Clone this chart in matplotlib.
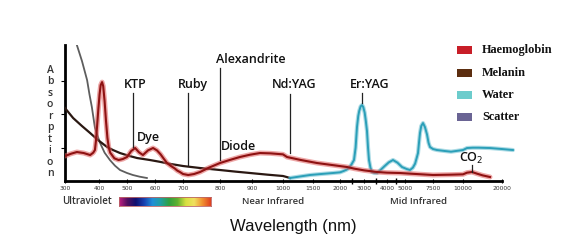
import numpy as np
import matplotlib
matplotlib.use("Agg")
import matplotlib.pyplot as plt
from matplotlib.colors import LinearSegmentedColormap
from matplotlib.patches import Rectangle

# ---------------- data ----------------
tick_wavelengths = [300, 400, 500, 600, 700, 800, 900, 1000, 1500, 2000,
                    3000, 4000, 5000, 7500, 10000, 20000]
tick_labels = ["300", "400", "500", "600", "700", "800", "900", "1000", "1500",
               "2000", "3000", "4000", "5000", "7500", "10000", "20000"]

hb_wl = [300, 318, 335, 355, 374, 383, 388, 391, 394, 398, 402, 406, 411, 415,
         420, 425, 430, 435, 440, 455, 470, 485, 500, 515, 529, 543, 557, 575,
         593, 607, 620, 632, 643, 657, 670, 680, 689, 700, 714, 730, 746, 770,
         800, 830, 862, 894, 926, 960, 1000, 1067, 1300, 1574, 1900, 2292,
         2600, 3000, 3565, 4000, 4722, 5500, 7500, 9000, 10000, 11026, 12300,
         13590, 15000, 16920]
hb_abs = [0.75, 0.82, 0.87, 0.84, 0.78, 0.85, 0.93, 1.2, 1.6, 2.15, 2.6, 2.88,
          2.97, 2.85, 2.4, 1.8, 1.3, 1.0, 0.85, 0.68, 0.63, 0.66, 0.72, 0.9,
          0.99, 0.86, 0.78, 0.92, 0.99, 0.92, 0.8, 0.66, 0.54, 0.45, 0.38,
          0.31, 0.27, 0.21, 0.18, 0.21, 0.27, 0.4, 0.54, 0.63, 0.72, 0.79,
          0.84, 0.83, 0.8, 0.72, 0.63, 0.54, 0.47, 0.42, 0.37, 0.32, 0.27,
          0.25, 0.24, 0.22, 0.18, 0.19, 0.2, 0.25, 0.27, 0.22, 0.17, 0.12]

mel_wl = [300, 312, 324, 350, 374, 397, 429, 450, 475, 505, 536, 582, 615,
          650, 700, 746, 800, 850, 894, 950, 1000, 1060, 1117]
mel_abs = [2.19, 2.04, 1.89, 1.65, 1.44, 1.23, 1.02, 0.93, 0.84, 0.76, 0.69,
           0.63, 0.58, 0.52, 0.45, 0.39, 0.33, 0.28, 0.24, 0.19, 0.15, 0.12,
           0.09]

water_wl = [1117, 1300, 1450, 1650, 1870, 2000, 2150, 2275, 2375, 2480, 2583,
            2650, 2708, 2760, 2800, 2860, 2917, 2970, 3030, 3080, 3130, 3175,
            3217, 3280, 3348, 3450, 3565, 3700, 3900, 4100, 4333, 4580, 4833,
            5150, 5446, 5700, 5900, 6050, 6161, 6250, 6339, 6450, 6607, 6780,
            6964, 7100, 7232, 7500, 7833, 8500, 9000, 10000, 11026, 12500,
            14000, 16920, 20000, 22800]
water_abs = [0.09, 0.14, 0.18, 0.21, 0.24, 0.26, 0.3, 0.34, 0.39, 0.5, 0.63,
             1.0, 1.62, 1.95, 2.1, 2.24, 2.28, 2.22, 2.05, 1.8, 1.5, 1.0, 0.63,
             0.4, 0.27, 0.24, 0.24, 0.32, 0.45, 0.56, 0.63, 0.55, 0.42, 0.36,
             0.33, 0.4, 0.52, 0.7, 0.84, 1.15, 1.44, 1.65, 1.74, 1.62, 1.4,
             1.15, 1.02, 0.96, 0.93, 0.9, 0.88, 0.93, 0.99, 1.0, 1.0, 0.99,
             0.96, 0.93]

scatter_wl = [330, 335, 350, 365, 372, 379, 388, 396, 404, 420, 439, 457, 475,
              500, 521, 545, 571]
scatter_abs = [4.3, 4.08, 3.6, 3.03, 2.6, 2.22, 1.6, 1.35, 1.14, 0.85, 0.63,
               0.46, 0.33, 0.24, 0.18, 0.13, 0.09]

laser_names = ["KTP", "Ruby", "Alexandrite", "Nd:YAG", "Er:YAG", "CO$_2$"]
laser_line_wl = [521, 714, 800, 1117, 2917, 12300]

legend_names = ["Haemoglobin", "Melanin", "Water", "Scatter"]
legend_colors = ["#c81e28", "#5c2e10", "#6ccccc", "#6a6494"]

# ---------------- piecewise x scale ----------------
W = 568.0
H = 250.0
scale_wl = np.array(tick_wavelengths + [30000], dtype=float)
scale_px = np.array([65, 99, 127, 155, 183, 220, 252, 283, 313, 340, 364, 387,
                     405, 433, 463, 502, 541], dtype=float)

def fwd(x):
    return np.interp(x, scale_wl, scale_px)

def inv(p):
    return np.interp(p, scale_px, scale_wl)

fig = plt.figure(figsize=(W / 100, H / 100), dpi=100)
fig.patch.set_facecolor("white")
ax_l, ax_r, ax_t, ax_b = 65, 502, 45, 181
ax = fig.add_axes([ax_l / W, 1 - ax_b / H, (ax_r - ax_l) / W, (ax_b - ax_t) / H])
ax.set_xscale("function", functions=(fwd, inv))
ax.set_xlim(300, 20000)
ax.set_ylim(0, (ax_b - ax_t) / 33.3)

for s in ["top", "right"]:
    ax.spines[s].set_visible(False)
ax.spines["left"].set_linewidth(2.0)
ax.spines["bottom"].set_linewidth(2.0)

ax.set_xticks(tick_wavelengths)
ax.set_xticklabels(tick_labels, fontsize=4.3, color="#333333",
                   family="DejaVu Sans")
ax.set_xticks([2500, 3500, 4500], minor=True)
ax.tick_params(axis="x", which="major", length=3, width=0.8, direction="inout",
               pad=2)
ax.tick_params(axis="x", which="minor", length=5, width=1.0, direction="inout")
ax.set_yticks([1, 2, 3])
ax.set_yticklabels([])
ax.tick_params(axis="y", length=3, width=0.8, direction="out")

# curves
ax.plot(scatter_wl, scatter_abs, color="#5e5e5e", lw=1.3, zorder=3)
ax.plot(mel_wl, mel_abs, color="#2a1812", lw=1.6, zorder=3)
ax.plot(water_wl, water_abs, color="#5ab8cc", lw=3.0, alpha=0.5, zorder=3,
        clip_on=False, solid_capstyle="round")
ax.plot(water_wl, water_abs, color="#2b9fb8", lw=1.4, zorder=4, clip_on=False)
ax.plot(hb_wl, hb_abs, color="#e06060", lw=3.6, alpha=0.55, zorder=5,
        solid_capstyle="round", solid_joinstyle="round")
ax.plot(hb_wl, hb_abs, color="#8e1212", lw=1.5, zorder=6,
        solid_joinstyle="round")

# laser markers
def py2abs(py):
    return (ax_b - py) / 33.3

line_px = [(93, 147), (93, 165), (68, 160), (94, 153), (93, 103), (165, 172)]
label_pos = [(529, 85), (727, 85), (895, 60), (1183, 85), (3261, 85), (12050, 158)]
for name, wl, (ptop, pbot), (lx, ly) in zip(laser_names, laser_line_wl,
                                            line_px, label_pos):
    ax.plot([wl, wl], [py2abs(pbot), py2abs(ptop)], color="#222222", lw=0.9,
            zorder=7, clip_on=False)
    ax.text(lx, py2abs(ly), name, ha="center", va="center", fontsize=9,
            family="Open Sans", fontweight="semibold", color="#111111",
            clip_on=False)

ax.text(575, py2abs(138), "Dye", ha="center", va="center", fontsize=9,
        family="Open Sans", fontweight="semibold", color="#111111")
ax.text(859, py2abs(147), "Diode", ha="center", va="center", fontsize=9,
        family="Open Sans", fontweight="semibold", color="#111111")

# y label stacked letters
fig.text(50 / W, 1 - 122 / H, "\n".join("Absorption"), ha="center",
         va="center", fontsize=7.5, family="Open Sans", fontweight="semibold",
         color="#333333", linespacing=1.06)

# region labels
fig.text(87 / W, 1 - 202 / H, "Ultraviolet", ha="center", va="center",
         fontsize=7, family="Open Sans", fontweight="semibold", color="#333333")
fig.text(273 / W, 1 - 202 / H, "Near Infrared", ha="center", va="center",
         fontsize=6.8, family="Open Sans", fontweight="semibold", color="#333333")
fig.text(418 / W, 1 - 202 / H, "Mid Infrared", ha="center", va="center",
         fontsize=6.8, family="Open Sans", fontweight="semibold", color="#333333")
fig.text(293 / W, 1 - 227 / H, "Wavelength (nm)", ha="center", va="center",
         fontsize=12, family="Liberation Sans", color="#111111")

# spectrum bar
spec = LinearSegmentedColormap.from_list("spec", [
    "#c02080", "#501060", "#101070", "#1840b0", "#2090d8", "#20a0a0",
    "#30a040", "#60b030", "#d8e040", "#f0e060", "#f09030", "#e04020"])
bax = fig.add_axes([119 / W, 1 - 206 / H, (211 - 119) / W, 9 / H])
bax.imshow(np.linspace(0, 1, 256)[None, :], aspect="auto", cmap=spec)
bax.set_xticks([])
bax.set_yticks([])
for s in bax.spines.values():
    s.set_edgecolor("#bb6666")
    s.set_linewidth(0.6)

# legend
leg_y = [50, 73, 95, 117]
for name, col, y in zip(legend_names, legend_colors, leg_y):
    fig.patches.append(Rectangle((457 / W, 1 - (y + 4) / H), 15 / W, 8 / H,
                                 transform=fig.transFigure, facecolor=col,
                                 edgecolor="none"))
    fig.text(482 / W, 1 - y / H, name, ha="left", va="center", fontsize=8.8,
             family="Liberation Serif", fontweight="bold", color="#111111")

fig.savefig("out.png", dpi=100, facecolor="white")
